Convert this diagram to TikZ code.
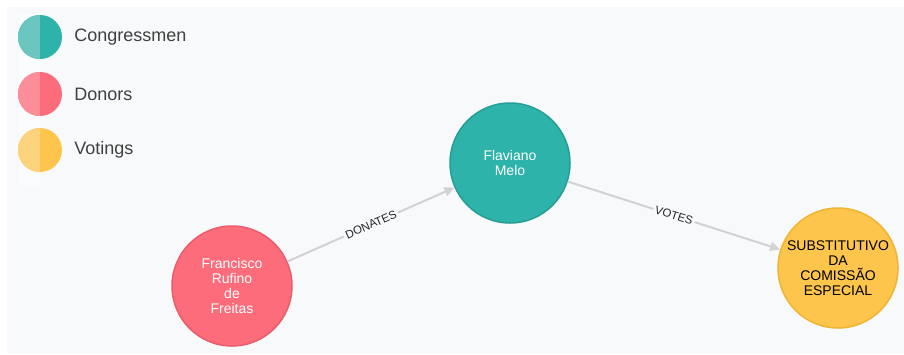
\documentclass[tikz,border=0pt]{standalone}
\usepackage{fontspec}
\setmainfont{Liberation Sans}
\usetikzlibrary{positioning,arrows.meta}
\definecolor{fundo}{RGB}{248,249,251}
\definecolor{verde}{RGB}{45,179,170}
\definecolor{verdeclaro}{RGB}{106,198,191}
\definecolor{verdeborda}{RGB}{38,158,150}
\definecolor{vermelho}{RGB}{252,108,122}
\definecolor{vermelhoclaro}{RGB}{252,142,154}
\definecolor{vermelhoborda}{RGB}{232,94,108}
\definecolor{amarelo}{RGB}{253,197,76}
\definecolor{amareloclaro}{RGB}{252,211,124}
\definecolor{amareloborda}{RGB}{238,180,52}
\definecolor{aresta}{RGB}{210,210,212}
\definecolor{texto}{RGB}{64,64,64}

\begin{document}
\begin{tikzpicture}[x=1pt,y=-1pt,
legenda/.style={circle,minimum size=44pt,inner sep=0pt,fill=#1,
path picture={\fill[#1claro] (path picture bounding box.south west) rectangle (path picture bounding box.north);}},
rotulo/.style={inner sep=0pt,text=texto,font=\fontsize{18}{20}\selectfont},
no/.style={circle,minimum size=120pt,inner sep=0pt,line width=1.5pt,
align=center,font=\fontsize{14}{15}\selectfont},
congressista/.style={no,fill=verde,draw=verdeborda,text=white},
doador/.style={no,fill=vermelho,draw=vermelhoborda,text=white},
votacao/.style={no,fill=amarelo,draw=amareloborda,text=black},
relacao/.style={draw=aresta,line width=2pt,-{Triangle[length=10pt,width=9pt]}},
etiqueta/.style={fill=fundo,sloped,inner sep=2pt,text=black!85,
font=\fontsize{11.5}{12}\selectfont}
]

% fundo
\useasboundingbox (0,0) rectangle (904,354);
\fill[white] (0,0) rectangle (904,354);
\fill[fundo] (7,7) rectangle (904,354);
\fill[white,opacity=.5] (19,14) rectangle (40,185);

% legenda
\node[legenda=verde] (congr) at (40,37) {};
\node[legenda=vermelho] (doad) at (40,94) {};
\node[legenda=amarelo] (vot) at (40,150) {};
\node[rotulo,right=12pt of congr] (lcongr) {Congressmen};
\node[rotulo,right=12pt of doad] (ldoad) {Donors};
\node[rotulo,right=12pt of vot] (lvot) {Votings};

% nos
\node[doador] (francisco) at (232,286) {Francisco\\Rufino\\de\\Freitas};
\node[congressista] (flaviano) at (510,163) {Flaviano\\Melo};
\node[votacao] (substitutivo) at (838,268) {SUBSTITUTIVO\\DA\\COMISSÃO\\ESPECIAL};

% arestas
\draw[relacao] (francisco) -- node[etiqueta] {DONATES} (flaviano);
\draw[relacao] (flaviano) -- node[etiqueta] {VOTES} (substitutivo);

\end{tikzpicture}
\end{document}
